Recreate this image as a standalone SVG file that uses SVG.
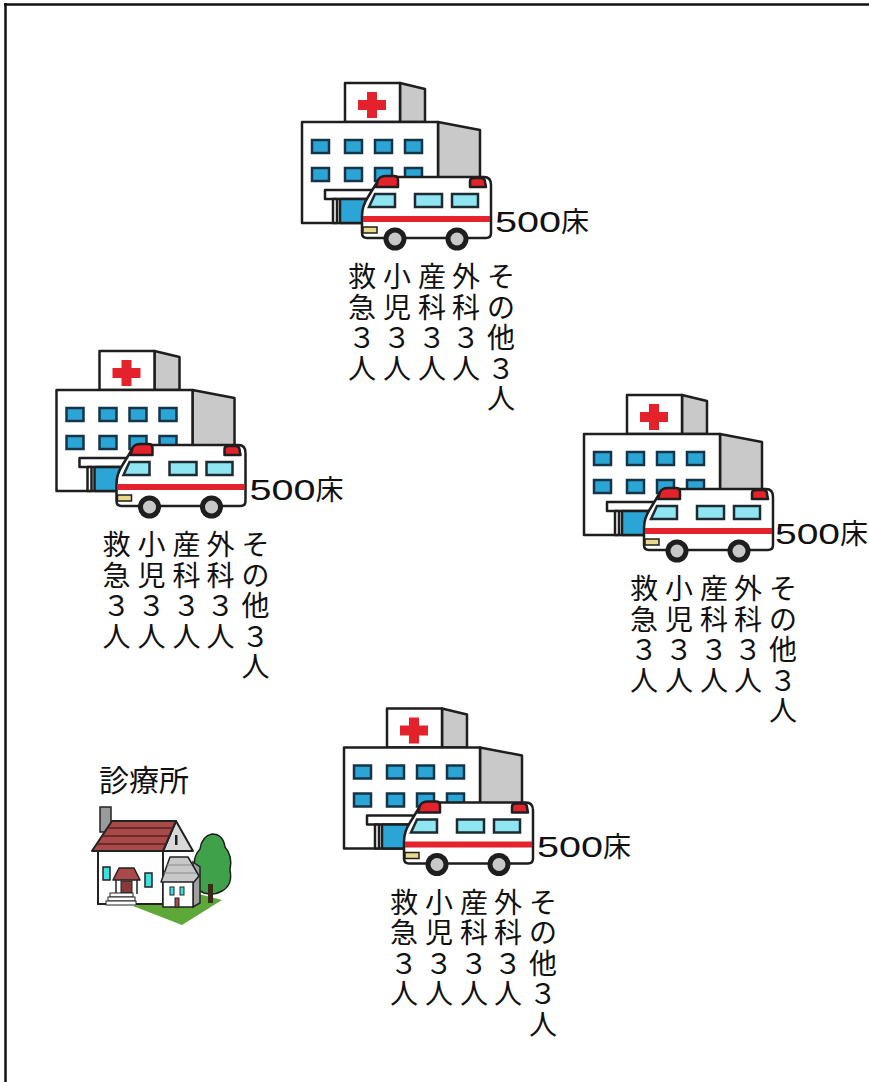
<svg xmlns="http://www.w3.org/2000/svg" xmlns:xlink="http://www.w3.org/1999/xlink" width="869" height="1082" viewBox="0 0 869 1082">
<style>
.t{font-family:"Liberation Sans","Noto Sans CJK JP",sans-serif;fill:#111}
.v{font-size:28px;text-anchor:middle}
.beds{font-size:30px}
.kanji{font-size:28px}
.ol{stroke:#1e1e1e;stroke-width:2.5;stroke-linejoin:round}
.win{fill:#2ba5d5;stroke:#163447;stroke-width:2.5}
.awin{fill:#8fe6f2;stroke:#1e2a30;stroke-width:2.5}
.red{fill:#e3222b}
.gray{fill:#c9c9c9}
</style>
<defs>
<g id="hospital-icon">
  <polygon class="ol gray" points="400,83 425,89 425,122 400,122"/>
  <rect class="ol" x="345" y="83" width="55" height="39" fill="#fff"/>
  <rect class="red" x="367" y="92" width="10" height="26"/>
  <rect class="red" x="358" y="100" width="28" height="10"/>
  <polygon class="ol gray" points="438,122 480,130 480,223 438,223"/>
  <rect class="ol" x="302" y="122" width="136" height="101" fill="#fff"/>
  <rect class="win" x="312" y="140" width="17" height="13"/>
  <rect class="win" x="345" y="140" width="17" height="13"/>
  <rect class="win" x="375" y="140" width="17" height="13"/>
  <rect class="win" x="405" y="140" width="17" height="13"/>
  <rect class="win" x="312" y="168" width="17" height="13"/>
  <rect class="win" x="345" y="168" width="17" height="13"/>
  <rect class="win" x="375" y="168" width="17" height="13"/>
  <rect class="win" x="405" y="168" width="17" height="13"/>
  <rect class="ol" x="325" y="190" width="47" height="9" fill="#fff"/>
  <rect class="ol" x="333" y="199" width="4" height="24" fill="#fff"/>
  <rect class="ol" x="340" y="199" width="27" height="24" fill="#2ba5d5"/>
  <path class="ol" d="M384 177 L484 177 Q491 177 491 185 L491 233 Q491 238 486 238 L367 238 Q362 238 362 233 L362 216 Q362 206 368 197 L376 184 Q379 177 384 177 Z" fill="#fff"/>
  <rect class="red" x="363" y="216" width="127" height="6"/>
  <path class="ol red" d="M376 187 L378 180 Q380 176 386 176 L394 176 Q398 176 398 180 L398 187 Z"/>
  <path class="ol red" d="M470 187 L470 181 Q470 178 474 178 L481 178 Q485 178 485 182 L486 187 Z"/>
  <polygon class="awin" points="375,194 395,194 395,207 369,207"/>
  <rect class="awin" x="415" y="194" width="27" height="13"/>
  <rect class="awin" x="452" y="194" width="26" height="13"/>
  <rect x="363" y="227" width="14" height="6" fill="#ead98b" stroke="#1e1e1e" stroke-width="1.5"/>
  <circle cx="395" cy="239" r="11.5" fill="#1e1e1e"/>
  <circle cx="395" cy="239" r="6.5" fill="#c8c8c8"/>
  <circle cx="457" cy="239" r="11.5" fill="#1e1e1e"/>
  <circle cx="457" cy="239" r="6.5" fill="#c8c8c8"/>
</g>
</defs>

<g id="frame">
  <line x1="4" y1="4.5" x2="869" y2="4.5" stroke="#111" stroke-width="2.5"/>
  <line x1="5.5" y1="3" x2="5.5" y2="1082" stroke="#111" stroke-width="2.5"/>
</g>

<g id="connectors"></g>

<g id="hospital-top">
  <use xlink:href="#hospital-icon" href="#hospital-icon"/>
  <text class="t beds" x="495" y="231.5"><tspan textLength="66" lengthAdjust="spacingAndGlyphs">500</tspan><tspan class="kanji">床</tspan></text>
  <text class="t v" x="362" y="287"><tspan x="362">救</tspan><tspan x="362" dy="30.5">急</tspan><tspan x="362" dy="30.5">３</tspan><tspan x="362" dy="30.5">人</tspan></text>
  <text class="t v" x="397" y="287"><tspan x="397">小</tspan><tspan x="397" dy="30.5">児</tspan><tspan x="397" dy="30.5">３</tspan><tspan x="397" dy="30.5">人</tspan></text>
  <text class="t v" x="432" y="287"><tspan x="432">産</tspan><tspan x="432" dy="30.5">科</tspan><tspan x="432" dy="30.5">３</tspan><tspan x="432" dy="30.5">人</tspan></text>
  <text class="t v" x="466" y="287"><tspan x="466">外</tspan><tspan x="466" dy="30.5">科</tspan><tspan x="466" dy="30.5">３</tspan><tspan x="466" dy="30.5">人</tspan></text>
  <text class="t v" x="501" y="287"><tspan x="501">そ</tspan><tspan x="501" dy="30.5">の</tspan><tspan x="501" dy="30.5">他</tspan><tspan x="501" dy="30.5">３</tspan><tspan x="501" dy="30.5">人</tspan></text>
</g>

<g id="hospital-left" transform="translate(-245.5,268)">
  <use xlink:href="#hospital-icon" href="#hospital-icon"/>
  <text class="t beds" x="495" y="231.5"><tspan textLength="66" lengthAdjust="spacingAndGlyphs">500</tspan><tspan class="kanji">床</tspan></text>
  <text class="t v" x="362" y="287"><tspan x="362">救</tspan><tspan x="362" dy="30.5">急</tspan><tspan x="362" dy="30.5">３</tspan><tspan x="362" dy="30.5">人</tspan></text>
  <text class="t v" x="397" y="287"><tspan x="397">小</tspan><tspan x="397" dy="30.5">児</tspan><tspan x="397" dy="30.5">３</tspan><tspan x="397" dy="30.5">人</tspan></text>
  <text class="t v" x="432" y="287"><tspan x="432">産</tspan><tspan x="432" dy="30.5">科</tspan><tspan x="432" dy="30.5">３</tspan><tspan x="432" dy="30.5">人</tspan></text>
  <text class="t v" x="466" y="287"><tspan x="466">外</tspan><tspan x="466" dy="30.5">科</tspan><tspan x="466" dy="30.5">３</tspan><tspan x="466" dy="30.5">人</tspan></text>
  <text class="t v" x="501" y="287"><tspan x="501">そ</tspan><tspan x="501" dy="30.5">の</tspan><tspan x="501" dy="30.5">他</tspan><tspan x="501" dy="30.5">３</tspan><tspan x="501" dy="30.5">人</tspan></text>
</g>

<g id="hospital-right" transform="translate(282,312)">
  <use xlink:href="#hospital-icon" href="#hospital-icon"/>
  <text class="t beds" x="493" y="231.5"><tspan textLength="65" lengthAdjust="spacingAndGlyphs">500</tspan><tspan class="kanji">床</tspan></text>
  <text class="t v" x="362" y="287"><tspan x="362">救</tspan><tspan x="362" dy="30.5">急</tspan><tspan x="362" dy="30.5">３</tspan><tspan x="362" dy="30.5">人</tspan></text>
  <text class="t v" x="397" y="287"><tspan x="397">小</tspan><tspan x="397" dy="30.5">児</tspan><tspan x="397" dy="30.5">３</tspan><tspan x="397" dy="30.5">人</tspan></text>
  <text class="t v" x="432" y="287"><tspan x="432">産</tspan><tspan x="432" dy="30.5">科</tspan><tspan x="432" dy="30.5">３</tspan><tspan x="432" dy="30.5">人</tspan></text>
  <text class="t v" x="466" y="287"><tspan x="466">外</tspan><tspan x="466" dy="30.5">科</tspan><tspan x="466" dy="30.5">３</tspan><tspan x="466" dy="30.5">人</tspan></text>
  <text class="t v" x="501" y="287"><tspan x="501">そ</tspan><tspan x="501" dy="30.5">の</tspan><tspan x="501" dy="30.5">他</tspan><tspan x="501" dy="30.5">３</tspan><tspan x="501" dy="30.5">人</tspan></text>
</g>

<g id="hospital-bottom" transform="translate(42,625.5)">
  <use xlink:href="#hospital-icon" href="#hospital-icon"/>
  <text class="t beds" x="495" y="231.5"><tspan textLength="66" lengthAdjust="spacingAndGlyphs">500</tspan><tspan class="kanji">床</tspan></text>
  <text class="t v" x="362" y="287"><tspan x="362">救</tspan><tspan x="362" dy="30.5">急</tspan><tspan x="362" dy="30.5">３</tspan><tspan x="362" dy="30.5">人</tspan></text>
  <text class="t v" x="397" y="287"><tspan x="397">小</tspan><tspan x="397" dy="30.5">児</tspan><tspan x="397" dy="30.5">３</tspan><tspan x="397" dy="30.5">人</tspan></text>
  <text class="t v" x="432" y="287"><tspan x="432">産</tspan><tspan x="432" dy="30.5">科</tspan><tspan x="432" dy="30.5">３</tspan><tspan x="432" dy="30.5">人</tspan></text>
  <text class="t v" x="466" y="287"><tspan x="466">外</tspan><tspan x="466" dy="30.5">科</tspan><tspan x="466" dy="30.5">３</tspan><tspan x="466" dy="30.5">人</tspan></text>
  <text class="t v" x="501" y="287"><tspan x="501">そ</tspan><tspan x="501" dy="30.5">の</tspan><tspan x="501" dy="30.5">他</tspan><tspan x="501" dy="30.5">３</tspan><tspan x="501" dy="30.5">人</tspan></text>
</g>

<g id="clinic">
  <text class="t" x="99" y="791" font-size="30">診療所</text>
  <polygon points="133,906 182,925 222,900 199,894" fill="#5ea83a"/>
  <path d="M204 893 Q193 889 195 872 Q192 857 200 849 Q202 836 212 834 Q223 834 225 847 Q233 856 230 870 Q233 885 222 891 Q214 896 204 893 Z" fill="#3fa24a" stroke="#1e1e1e" stroke-width="1.5"/>
  <rect x="208" y="884" width="5" height="19" fill="#3a2a1a"/>
  <rect x="100" y="807" width="11" height="25" fill="#9a9a9a" stroke="#222" stroke-width="1.5"/>
  <rect x="98" y="850" width="65" height="54" fill="#fff" stroke="#222" stroke-width="2"/>
  <polygon points="163,851 176,821 193,851" fill="#d8d8d8" stroke="#222" stroke-width="2" stroke-linejoin="round"/>
  <rect x="175" y="835" width="2.5" height="10" fill="#222"/>
  <polygon points="112,821 176,821 163,851 92,851" fill="#a84a4a" stroke="#222" stroke-width="2" stroke-linejoin="round"/>
  <g stroke="#5a2020" stroke-width="1.5">
    <line x1="107.3" y1="828" x2="173" y2="828"/>
    <line x1="102" y1="836" x2="169.5" y2="836"/>
    <line x1="96.7" y1="844" x2="166" y2="844"/>
  </g>
  <polygon points="193,862 200,867 200,903 193,907" fill="#a0a0a0" stroke="#222" stroke-width="1.5"/>
  <rect x="163" y="881" width="30" height="26" fill="#fff" stroke="#222" stroke-width="1.5"/>
  <polygon points="161,882 170,857 188,857 199,876 194,882" fill="#c8c8c8" stroke="#222" stroke-width="1.5" stroke-linejoin="round"/>
  <g stroke="#8a8a8a" stroke-width="1">
    <line x1="167" y1="865" x2="192" y2="865"/>
    <line x1="164" y1="873" x2="196" y2="873"/>
  </g>
  <rect x="103" y="867" width="7" height="13" fill="#3de0e0" stroke="#222" stroke-width="1.5"/>
  <rect x="145" y="873" width="7" height="14" fill="#3de0e0" stroke="#222" stroke-width="1.5"/>
  <rect x="170" y="887" width="4" height="8" fill="#3de0e0" stroke="#222" stroke-width="1"/>
  <rect x="180" y="887" width="4" height="8" fill="#3de0e0" stroke="#222" stroke-width="1"/>
  <rect x="175" y="898" width="4" height="9" fill="#a84a4a" stroke="#222" stroke-width="1"/>
  <rect x="121" y="881" width="11" height="12" fill="#8a3a3a" stroke="#222" stroke-width="1"/>
  <line x1="116" y1="880" x2="116" y2="894" stroke="#222" stroke-width="1.5"/>
  <line x1="137" y1="880" x2="137" y2="894" stroke="#222" stroke-width="1.5"/>
  <polygon points="113,880 119,868 134,868 140,880" fill="#a84a4a" stroke="#222" stroke-width="1.5" stroke-linejoin="round"/>
  <rect x="110" y="893" width="23" height="4" fill="#fff" stroke="#222" stroke-width="1"/>
  <rect x="108" y="897" width="27" height="4" fill="#fff" stroke="#222" stroke-width="1"/>
  <rect x="106" y="901" width="30" height="4" fill="#fff" stroke="#222" stroke-width="1"/>
</g>
</svg>
